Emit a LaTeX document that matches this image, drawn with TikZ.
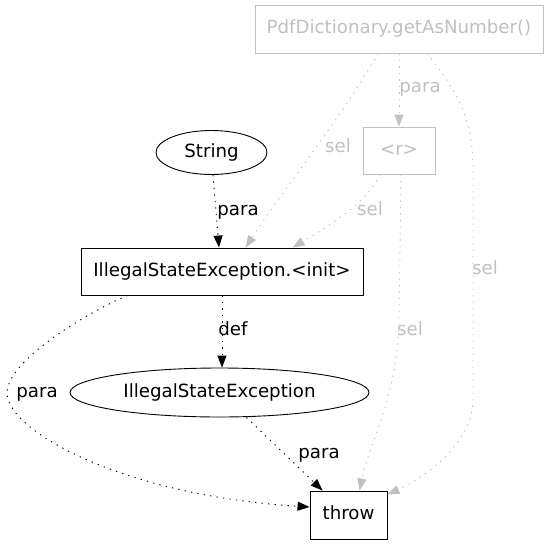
\documentclass[tikz,border=0pt]{standalone}
\usepackage{fontspec}
\setmainfont{DejaVu Sans}
\usetikzlibrary{arrows.meta,calc,shapes.geometric}
\definecolor{lightg}{HTML}{C0C0C0}
\begin{document}
\begin{tikzpicture}[x=1pt,y=-1pt,
  every node/.style={font=\fontsize{18.2}{21}\selectfont, text height=13.6pt, text depth=4pt},
  boxnode/.style={draw, line width=0.9pt, rectangle, inner sep=0pt},
  ellnode/.style={draw, line width=0.9pt, ellipse, inner sep=0pt},
  greynode/.style={boxnode, draw=lightg, text=lightg},
  edgeb/.style={line width=0.9pt, dash pattern=on 1.3pt off 5.2pt, -{Triangle[length=12pt,width=9pt]}},
  edgeg/.style={edgeb, draw=lightg, -{Triangle[length=12pt,width=9pt,fill=lightg]}},
  lbl/.style={inner sep=0pt},
  glbl/.style={lbl, text=lightg}]
\useasboundingbox (0,0) rectangle (549,544);
\node[greynode, minimum width=288pt, minimum height=48pt] (pdf) at (399,29) {PdfDictionary.getAsNumber()};
\node[greynode, minimum width=72pt, minimum height=47pt] (r) at (399,150.5) {<r>};
\node[ellnode, minimum width=111pt, minimum height=44pt] (string) at (211.5,152.5) {String};
\node[boxnode, minimum width=282pt, minimum height=47pt] (init) at (222,271.5) {IllegalStateException.<init>};
\node[ellnode, minimum width=299pt, minimum height=49pt] (ise) at (219.5,392.5) {IllegalStateException};
\node[boxnode, minimum width=77pt, minimum height=48pt] (throw) at (348.5,515) {throw};

% grey edges
\draw[edgeg] (pdf.south) -- (r.north);
\node[glbl] (l1) at (420,88) {para};
\coordinate (p1s) at ($(pdf.south)+(-21,0)$);
\draw[edgeg] (p1s) .. controls (340,120) and (290,180) .. ([xshift=165pt]init.north west);
\node[glbl] (l2) at (338,148) {sel};
\coordinate (r1s) at ($(r.south)+(-19,0)$);
\draw[edgeg] (r1s) .. controls (365,205) and (330,225) .. ([xshift=212pt]init.north west);
\node[glbl] (l3) at (370,211) {sel};
\coordinate (r2s) at ($(r.south)+(2,0)$);
\coordinate (r2m) at (399,320);
\draw[edgeg] (r2s) -- (r2m) .. controls (397,400) and (370,440) .. ([xshift=50pt]throw.north west);
\node[glbl] (l4) at (410,331) {sel};
\coordinate (p2s) at ($(pdf.south)+(28,0)$);
\coordinate (p2a) at (473,170);
\coordinate (p2b) at (473,400);
\draw[edgeg] (p2s) .. controls (460,95) and (473,120) .. (p2a) -- (p2b) .. controls (473,440) and (430,475) .. ([yshift=-4pt]throw.north east);
\node[glbl] (l5) at (485,270) {sel};

% black edges
\draw[edgeb] ([xshift=1.5pt]string.south) -- ([xshift=-3pt]init.north);
\node[lbl] (l6) at (238,211) {para};
\draw[edgeb] (init.south) -- (init.south |- ise.north);
\node[lbl] (l7) at (233,331) {def};
\coordinate (isb) at ($(ise.south)+(27,0)$);
\draw[edgeb] (isb) -- ([xshift=13pt]throw.north west);
\node[lbl] (l8) at (319,454) {para};
\coordinate (ins) at ($(init.south west)+(47,0)$);
\coordinate (inm) at (7,393);
\draw[edgeb] (ins) .. controls (90,311) and (7,360) .. (inm) .. controls (7,430) and (120,495) .. ([yshift=8pt]throw.west);
\node[lbl] (l9) at (37,393) {para};
\end{tikzpicture}
\end{document}
